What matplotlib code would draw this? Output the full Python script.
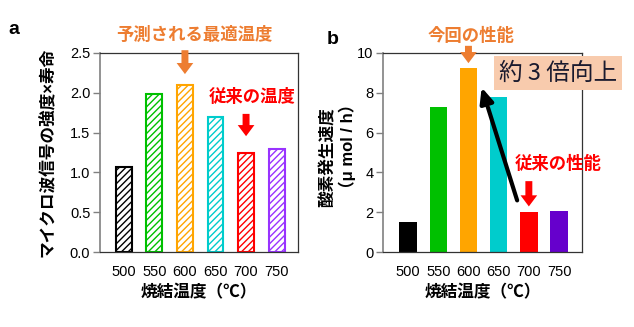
import matplotlib
matplotlib.use("Agg")
import matplotlib.pyplot as plt

plt.rcParams['font.family'] = ['Liberation Sans', 'Noto Sans CJK JP', 'DejaVu Sans']
plt.rcParams['hatch.linewidth'] = 1.0

temps = ["500", "550", "600", "650", "700", "750"]
signal = [1.07, 1.99, 2.10, 1.69, 1.24, 1.30]
oxygen = [1.5, 7.3, 9.25, 7.8, 2.0, 2.05]
colors_a = ["#000000", "#00c000", "#ffa500", "#00cccc", "#ff0000", "#9933ff"]
colors_b = ["#000000", "#00c000", "#ffa500", "#00cccc", "#ff0000", "#6600cc"]

ORANGE = "#ed7d31"
RED = "#ff0000"

fig = plt.figure(figsize=(6.34, 3.27), dpi=100)
W, H = 634, 327

def add_axes_px(x0, y0, x1, y1):
    return fig.add_axes([x0 / W, 1 - y1 / H, (x1 - x0) / W, (y1 - y0) / H])

def style_axes(ax):
    for s in ["top", "right", "bottom"]:
        ax.spines[s].set_color("#333333")
        ax.spines[s].set_linewidth(0.9)
    ax.spines["left"].set_color("#808080")
    ax.spines["left"].set_linewidth(1.2)
    ax.tick_params(axis="y", direction="out", length=5, width=1, color="#808080",
                   labelsize=10.5, pad=2)
    ax.tick_params(axis="x", length=0, labelsize=10.5, pad=9)

ARROW = "simple,head_width=1.2,head_length=0.8,tail_width=0.5"
x = list(range(len(temps)))

# Panel a
ax1 = add_axes_px(100, 53, 298, 252)
for i, v in enumerate(signal):
    ax1.bar(i, v, width=0.52, facecolor="white", edgecolor=colors_a[i],
            hatch="/////", linewidth=1.5)
ax1.set_xlim(-0.78, 5.7)
ax1.set_ylim(0, 2.5)
ax1.set_yticks([0, 0.5, 1.0, 1.5, 2.0, 2.5])
ax1.set_yticklabels(["0.0", "0.5", "1.0", "1.5", "2.0", "2.5"])
ax1.set_xticks(x)
ax1.set_xticklabels(temps)
style_axes(ax1)
ax1.set_xlabel("焼結温度（℃）", fontsize=12, fontweight="bold", labelpad=4)
ax1.set_ylabel("マイクロ波信号の強度×寿命", fontsize=12, fontweight="bold", labelpad=10)

# Panel b
ax2 = add_axes_px(383, 53, 582, 252)
ax2.bar(x, oxygen, width=0.58, color=colors_b, linewidth=0)
ax2.set_xlim(-0.83, 5.76)
ax2.set_ylim(0, 10)
ax2.set_yticks([0, 2, 4, 6, 8, 10])
ax2.set_xticks(x)
ax2.set_xticklabels(temps)
style_axes(ax2)
ax2.set_xlabel("焼結温度（℃）", fontsize=12, fontweight="bold", labelpad=4)

# Two-line y label for panel b
fig.text(327 / W, 1 - 157 / H, "酸素発生速度", rotation=90, fontsize=12,
         fontweight="bold", ha="center", va="center")
fig.text(347 / W, 1 - 146 / H, "（μ mol / h）", rotation=90, fontsize=12,
         fontweight="bold", ha="center", va="center")

# Panel letters
fig.text(14 / W, 1 - 30 / H, "a", fontsize=14, fontweight="bold", va="center", ha="center")
fig.text(333 / W, 1 - 40 / H, "b", fontsize=14, fontweight="bold", va="center", ha="center")

# Annotations, panel a
ax1.text(2.3, 2.73, "予測される最適温度", color=ORANGE, fontsize=12.5,
         fontweight="bold", ha="center", va="center", clip_on=False)
ax1.annotate("", xy=(2.0, 2.2), xytext=(2.0, 2.57),
             arrowprops=dict(arrowstyle=ARROW, color=ORANGE, lw=0), annotation_clip=False)
ax1.text(4.2, 1.95, "従来の温度", color=RED, fontsize=12.5,
         fontweight="bold", ha="center", va="center", clip_on=False)
ax1.annotate("", xy=(4.0, 1.42), xytext=(4.0, 1.77),
             arrowprops=dict(arrowstyle=ARROW, color=RED, lw=0), annotation_clip=False)

# Annotations, panel b
ax2.text(2.1, 10.9, "今回の性能", color=ORANGE, fontsize=12.5,
         fontweight="bold", ha="center", va="center", clip_on=False)
ax2.annotate("", xy=(2.0, 9.35), xytext=(2.0, 10.5),
             arrowprops=dict(arrowstyle=ARROW, color=ORANGE, lw=0), annotation_clip=False)
ax2.text(4.96, 4.45, "従来の性能", color=RED, fontsize=12.5,
         fontweight="bold", ha="center", va="center", clip_on=False)
ax2.annotate("", xy=(4.0, 2.15), xytext=(4.0, 3.7),
             arrowprops=dict(arrowstyle=ARROW, color=RED, lw=0), annotation_clip=False)
ax2.annotate("", xy=(2.41, 8.4), xytext=(3.64, 2.46),
             arrowprops=dict(arrowstyle="-|>,head_width=0.4,head_length=0.9",
                             color="black", lw=3), annotation_clip=False)

fig.text(558 / W, 1 - 73 / H, "約 3 倍向上", fontsize=17, color="#1a1a2e",
         family=['Noto Sans CJK JP'], ha="center", va="center",
         bbox=dict(boxstyle="square,pad=0.22", facecolor="#f8cbad", edgecolor="none"))

fig.savefig("out.png", dpi=100)
